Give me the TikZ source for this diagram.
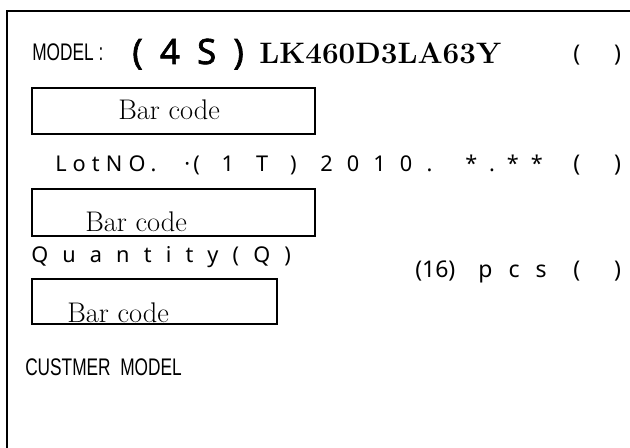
\documentclass[tikz,border=0pt]{standalone}
\usepackage{fontspec}
\newfontfamily\narrowsans[FakeStretch=0.72]{Liberation Sans}
\newfontfamily\gothic{Noto Sans}
\newfontfamily\gothicheavy[FakeBold=1.8]{Noto Sans}
\newcommand\spaced[1]{\addfontfeature{LetterSpace=#1}}
\newcommand\emptyparen{(\hspace{25.5pt})}

\begin{document}
\begin{tikzpicture}[
	x=0.75pt, y=-0.75pt,
	txt/.style={inner sep=0pt, anchor=base west},
	narrow/.style={txt, font=\narrowsans\fontsize{18}{20}\selectfont},
	goth/.style={txt, font=\gothic\fontsize{16.3}{19}\selectfont},
	paren/.style={txt, font=\gothic\fontsize{17.25}{20}\selectfont},
	barbox/.style={draw, line width=1pt},
	barlabel/.style={txt, font=\fontsize{21.3}{24}\selectfont},
	]
	\useasboundingbox (0,0) rectangle (630,448);
	\draw[line width=1.5pt] (630,11) -- (7,11) -- (7,448);

	% model line
	\node[narrow] (model) at (32,61) {MODEL :};
	\node[txt, font=\gothicheavy\fontsize{26.25}{30}\selectfont\spaced{49}] (site) at (132,64) {(4S)};
	\node[txt, font=\bfseries\fontsize{22.2}{26}\selectfont] (modelno) at (259,64) {LK460D3LA63Y};
	\node[paren] (modelpar) at (573,62) {\emptyparen};

	\draw[barbox] (32,88) rectangle (315,134);
	\node[barlabel] (bar1) at (118,120) {Bar code};

	% lot line
	\node[goth, font=\gothic\fontsize{16.3}{19}\selectfont\spaced{28}] (lot) at (55,172) {LotNO.};
	\node[goth] (lotdot) at (184,172) {·};
	\node[goth, font=\gothic\fontsize{16.3}{19}\selectfont\spaced{101}] (lotid) at (193,172) {(1T)};
	\node[goth, font=\gothic\fontsize{16.3}{19}\selectfont\spaced{65}] (lotyear) at (320,172) {2010.};
	\node[goth, font=\gothic\fontsize{16.3}{19}\selectfont\spaced{55}] (lotmask) at (465,172) {*.**};
	\node[paren] (lotpar) at (573,172) {\emptyparen};

	\draw[barbox] (32,189) rectangle (315,236);
	\node[barlabel] (bar2) at (85,232) {Bar code};

	% quantity line
	\node[goth, font=\gothic\fontsize{16.3}{19}\selectfont\spaced{65}] (qty) at (31,263) {Quantity(Q)};
	\node[txt, font=\gothic\fontsize{17.25}{20}\selectfont] (qtynum) at (415,277) {(16)};
	\node[txt, font=\gothic\fontsize{17.25}{20}\selectfont\spaced{70}] (qtyunit) at (478,277) {pcs};
	\node[paren] (qtypar) at (573,277) {\emptyparen};

	\draw[barbox] (32,279) rectangle (277,324);
	\node[barlabel] (bar3) at (67,322) {Bar code};

	\node[narrow] (custmodel) at (25,375) {CUSTMER\ \ MODEL};
\end{tikzpicture}
\end{document}
